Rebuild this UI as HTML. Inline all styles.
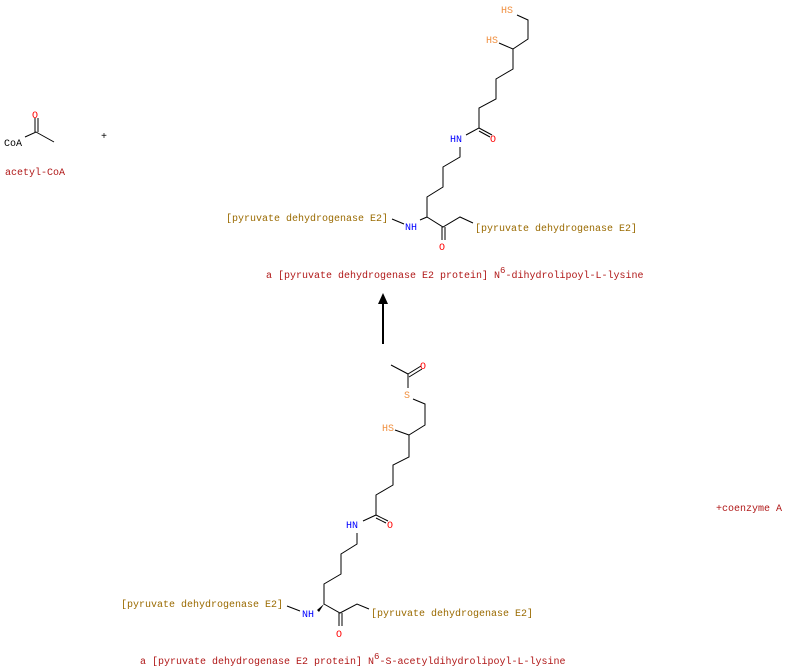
<!DOCTYPE html>
<html><head><meta charset="utf-8"><style>
html,body{margin:0;padding:0;background:#fff;width:785px;height:667px;overflow:hidden}
svg text{font-family:"Liberation Mono","DejaVu Sans Mono",monospace;font-size:10px}
.r{fill:#b01818}.b{fill:#9a6a00}.o{fill:#f00}.n{fill:#00f}.s{fill:#f09040}.k{fill:#000}
</style></head><body>
<svg width="785" height="667" viewBox="0 0 785 667" xmlns="http://www.w3.org/2000/svg">
<g stroke="#000" stroke-width="1" fill="none">
<!-- acetyl-CoA -->
<polyline points="25,137 36,132 54,142"/>
<line x1="35" y1="132" x2="35" y2="118"/><line x1="38" y1="132" x2="38" y2="118"/>
<!-- top molecule -->
<polyline points="517,15 528,20 528,39 513,49 513,69 496,79 496,99 479,108 479,128 466,135"/>
<line x1="499" y1="43" x2="513" y2="49"/>
<line x1="479" y1="128" x2="492" y2="135"/><line x1="479" y1="131" x2="490" y2="137"/>
<polyline points="460,147 460,157 443,167 443,187 427,197 427,217 443,227 460,217 473,223"/>
<line x1="420" y1="220" x2="427" y2="217"/>
<line x1="392" y1="219" x2="404" y2="224"/>
<line x1="442" y1="227" x2="442" y2="240"/><line x1="445" y1="227" x2="445" y2="240"/>
<!-- bottom molecule -->
<line x1="391" y1="365" x2="408" y2="374"/>
<line x1="408" y1="374" x2="421" y2="366"/><line x1="409" y1="377" x2="422" y2="369"/>
<line x1="408" y1="374" x2="408" y2="388"/>
<polyline points="413,399 425,404 425,425 409,435 409,457 393,465 393,485 376,495 376,515 363,521"/>
<line x1="395" y1="430" x2="409" y2="435"/>
<line x1="376" y1="515" x2="388" y2="521"/><line x1="376" y1="518" x2="386" y2="523"/>
<polyline points="357,533 357,544 341,554 341,574 324,584 324,604 340,613 357,604 369,609"/>
<line x1="287" y1="606" x2="300" y2="611"/>
<line x1="339" y1="613" x2="339" y2="626"/><line x1="342" y1="613" x2="342" y2="626"/>
</g>
<polygon points="317,610 324,604 319,612" fill="#000"/>
<!-- arrow -->
<line x1="383" y1="344" x2="383" y2="302" stroke="#000" stroke-width="2"/>
<polygon points="383,293 378,304 388,304" fill="#000"/>
<!-- texts -->
<text x="4" y="146" class="k">CoA</text>
<text x="32" y="118" class="o">O</text>
<text x="101" y="139" class="k">+</text>
<text x="5" y="175" class="r">acetyl-CoA</text>

<text x="501" y="13" class="s">HS</text>
<text x="486" y="43" class="s">HS</text>
<text x="450" y="142" class="n">HN</text>
<text x="490" y="142" class="o">O</text>
<text x="226" y="221" class="b">[pyruvate dehydrogenase E2]</text>
<text x="405" y="230" class="n">NH</text>
<text x="475" y="231" class="b">[pyruvate dehydrogenase E2]</text>
<text x="439" y="250" class="o">O</text>
<text x="266" y="278" class="r">a [pyruvate dehydrogenase E2 protein] N<tspan dy="-5" font-size="9">6</tspan><tspan dy="5">-dihydrolipoyl-L-lysine</tspan></text>

<text x="420" y="369" class="o">O</text>
<text x="404" y="398" class="s">S</text>
<text x="382" y="431" class="s">HS</text>
<text x="346" y="528" class="n">HN</text>
<text x="387" y="528" class="o">O</text>
<text x="716" y="511" class="r">+coenzyme A</text>
<text x="121" y="607" class="b">[pyruvate dehydrogenase E2]</text>
<text x="302" y="617" class="n">NH</text>
<text x="371" y="616" class="b">[pyruvate dehydrogenase E2]</text>
<text x="336" y="637" class="o">O</text>
<text x="140" y="664" class="r">a [pyruvate dehydrogenase E2 protein] N<tspan dy="-5" font-size="9">6</tspan><tspan dy="5">-S-acetyldihydrolipoyl-L-lysine</tspan></text>
</svg>
</body></html>
